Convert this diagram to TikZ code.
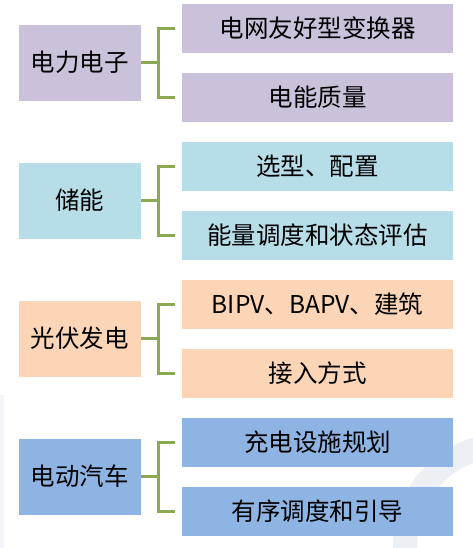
\documentclass[tikz,border=0pt]{standalone}
\usepackage{fontspec}
\usetikzlibrary{calc}
\setmainfont{Noto Sans CJK SC}
\definecolor{cpurple}{HTML}{CCC1DA}
\definecolor{cltblue}{HTML}{B7DDE8}
\definecolor{cpeach}{HTML}{FBD5B5}
\definecolor{cblue}{HTML}{8EB4E3}
\definecolor{cgreen}{HTML}{8DA852}
\definecolor{cwater}{HTML}{ECEFF4}
\begin{document}
\begin{tikzpicture}[x=1pt,y=-1pt,
  lbox/.style={draw=white,line width=0.8pt,minimum width=123pt,minimum height=77pt,inner sep=0pt,font=\fontsize{24.5}{28}\selectfont},
  rbox/.style={draw=none,minimum width=271pt,minimum height=49pt,inner sep=0pt,font=\fontsize{24.5}{28}\selectfont},
  conn/.style={draw=cgreen,line width=3.6pt,line cap=butt,line join=miter}]
\useasboundingbox (0,0) rectangle (473,548);
\begin{scope}
\clip (0,0) rectangle (473,548);
\fill[cwater,even odd rule] (505,545) circle (112) (505,545) circle (88);
\fill[cwater!60] (0,395) rectangle (4,548);
\end{scope}
% group 1
\node[lbox,fill=cpurple] (L1) at (79.5,62.5) {电力电子};
\node[rbox,fill=cpurple] (R1a) at (317.5,28.5) {电网友好型变换器};
\node[rbox,fill=cpurple] (R1b) at (317.5,97.5) {电能质量};
% group 2
\node[lbox,fill=cltblue] (L2) at (79.5,200.5) {储能};
\node[rbox,fill=cltblue] (R2a) at (317.5,166.5) {选型、配置};
\node[rbox,fill=cltblue] (R2b) at (317.5,235.5) {能量调度和状态评估};
% group 3
\node[lbox,fill=cpeach] (L3) at (79.5,338.5) {光伏发电};
\node[rbox,fill=cpeach] (R3a) at (317.5,304.5) {BIPV、BAPV、建筑};
\node[rbox,fill=cpeach] (R3b) at (317.5,373.5) {接入方式};
% group 4
\node[lbox,fill=cblue] (L4) at (79.5,476.5) {电动汽车};
\node[rbox,fill=cblue] (R4a) at (317.5,442.5) {充电设施规划};
\node[rbox,fill=cblue] (R4b) at (317.5,511.5) {有序调度和引导};
% connectors
\foreach \l/\a/\b in {L1/R1a/R1b,L2/R2a/R2b,L3/R3a/R3b,L4/R4a/R4b}{
  \coordinate (m) at ($(\l.east)+(17,0)$);
  \draw[conn] (\l.east) -- (m);
  \draw[conn] ([xshift=-7pt]\a.west) -| (m |- \b.west) -- ([xshift=-7pt]\b.west);
}
\end{tikzpicture}
\end{document}
